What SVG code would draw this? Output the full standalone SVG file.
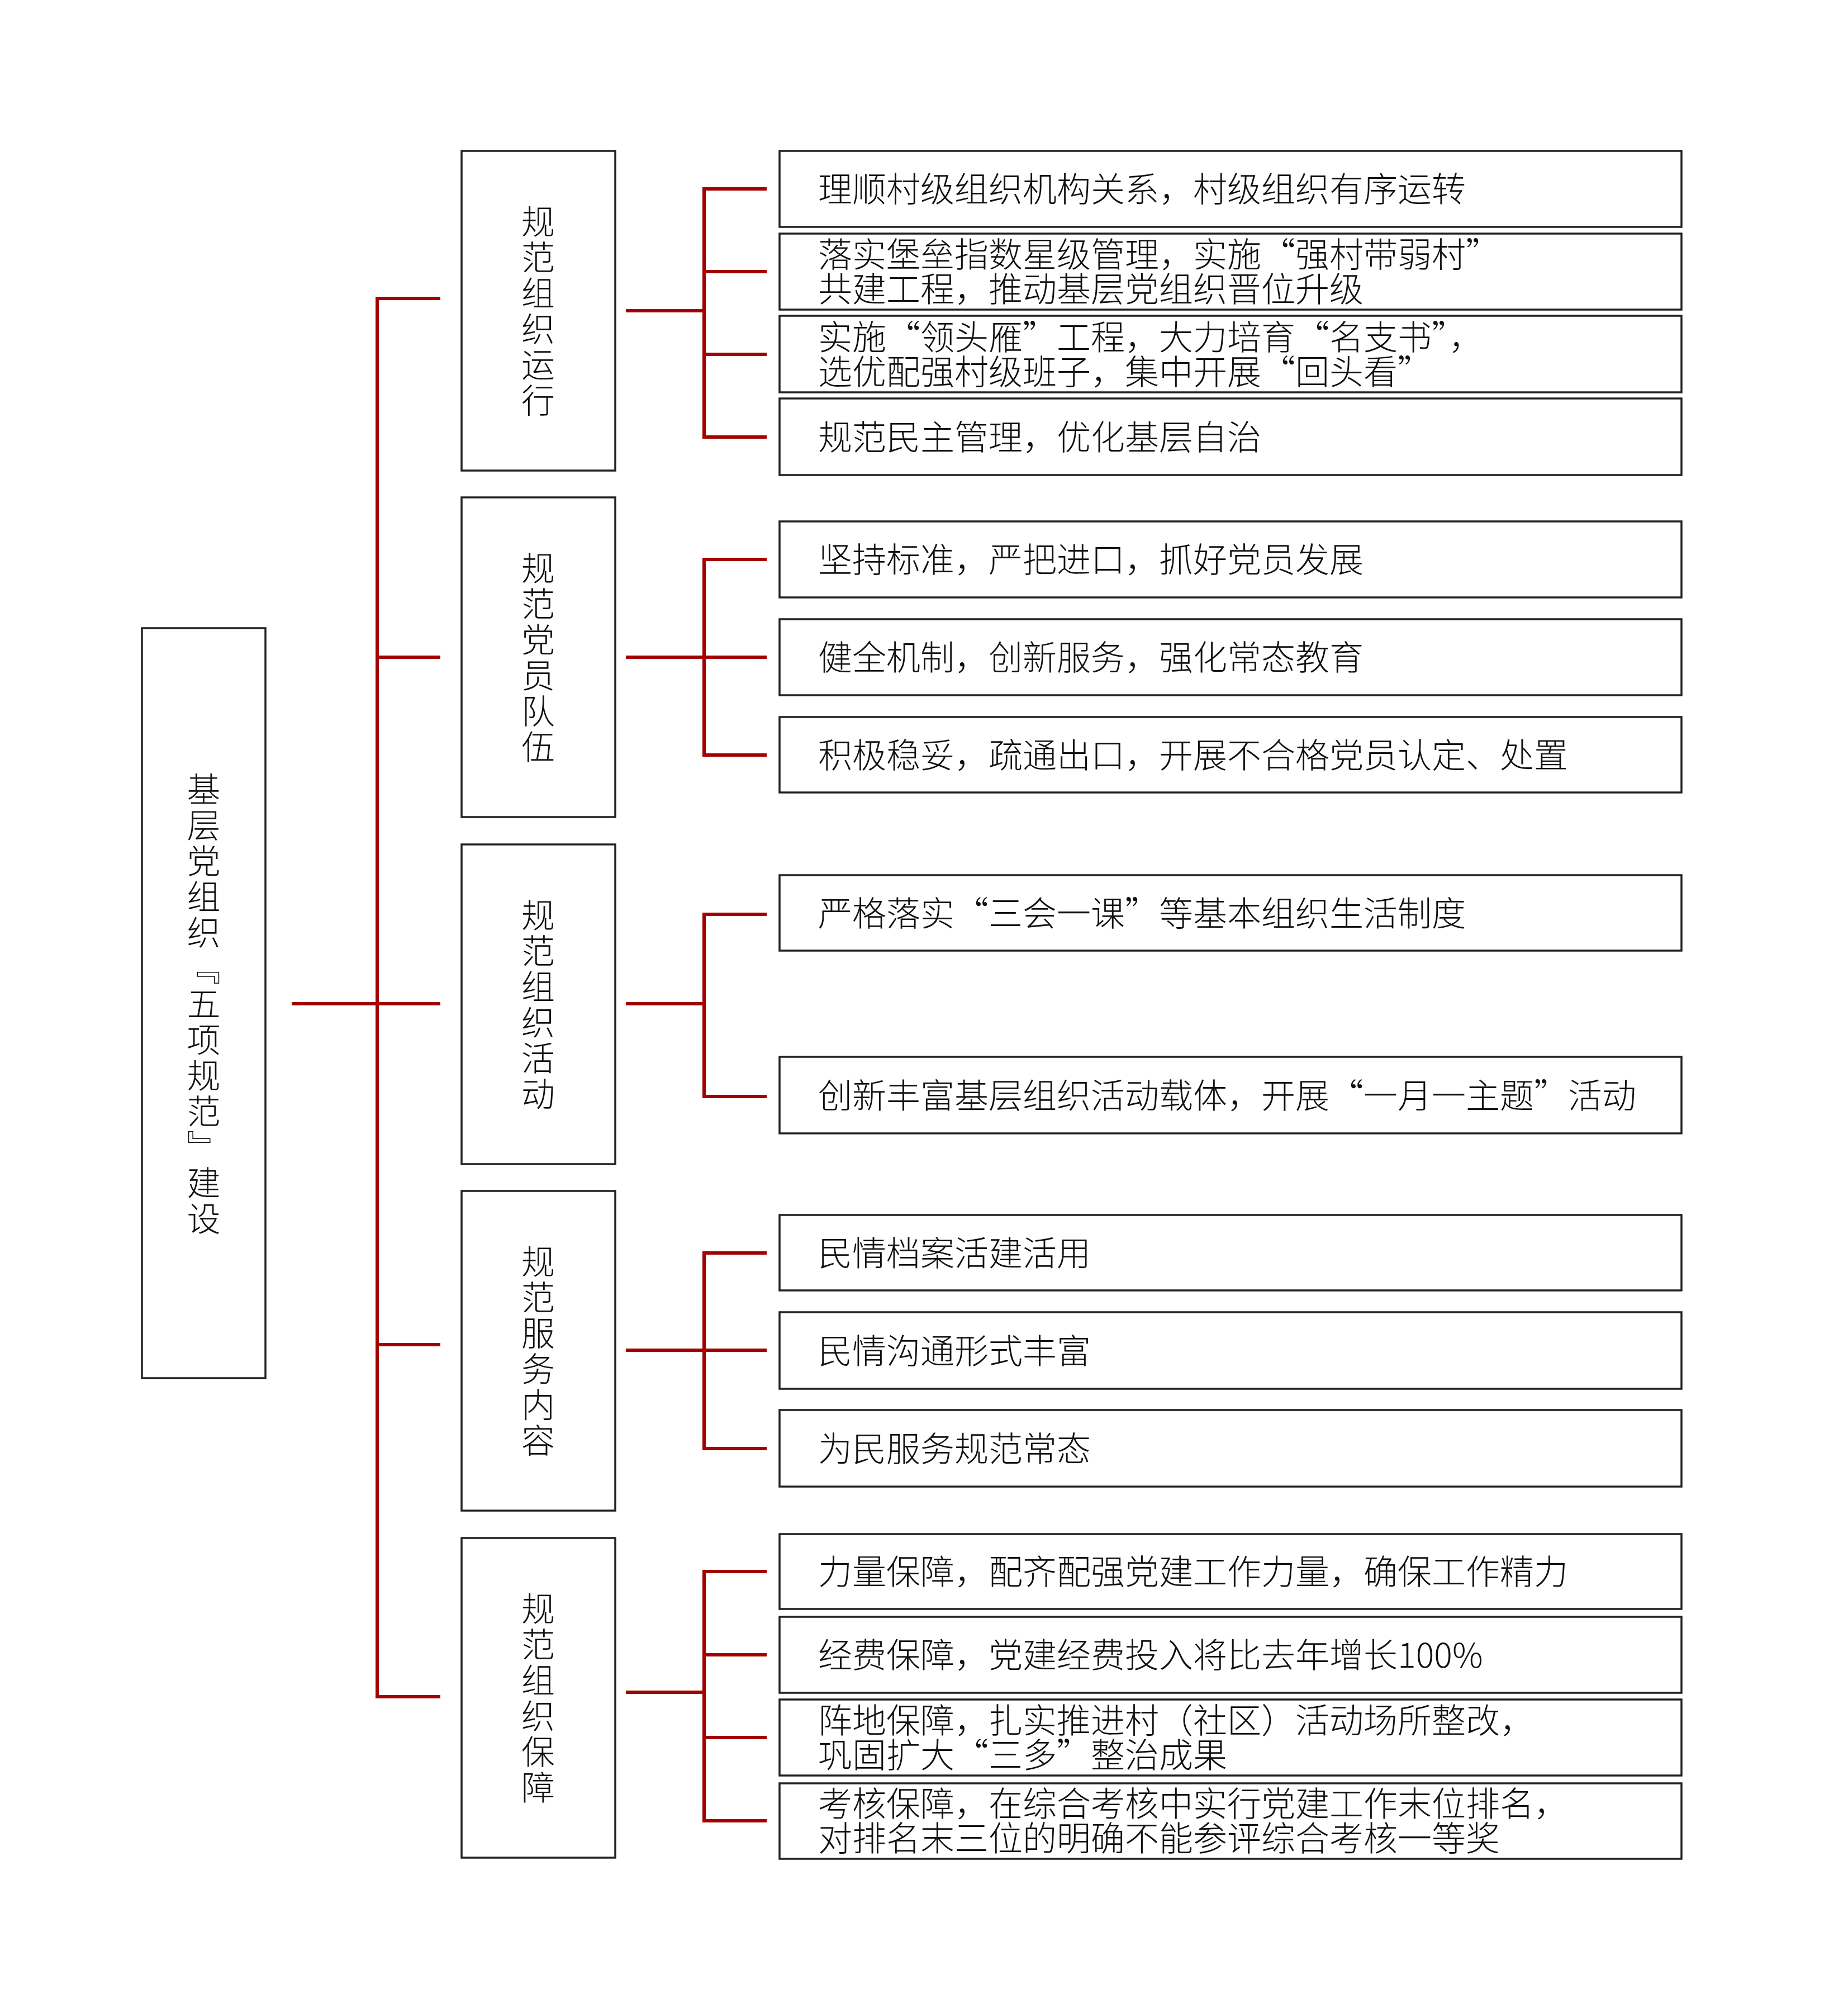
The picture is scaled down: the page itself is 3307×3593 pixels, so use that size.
<svg xmlns="http://www.w3.org/2000/svg" width="3307" height="3593" viewBox="0 0 3307 3593">
<style>
.box{fill:#fff;stroke:#222;stroke-width:3.5}
.ln{fill:none;stroke:#A30000;stroke-width:6;stroke-linecap:butt;stroke-linejoin:miter}
.t{font-family:"Noto Sans CJK SC","Noto Sans CJK TC",sans-serif;font-size:61px;fill:#111;font-weight:300}
.v{font-family:"Noto Sans CJK SC","Noto Sans CJK TC",sans-serif;font-size:60px;fill:#111;font-weight:300;writing-mode:vertical-rl;text-anchor:middle;letter-spacing:4px}
</style>
<rect width="3307" height="3593" fill="#fff"/>
<g id="connectors">
<path class="ln" d="M675,534 V3036"/>
<path class="ln" d="M672,534 H788 M675,1176 H788 M522,1796 H788 M675,2406 H788 M672,3036 H788"/>
<path class="ln" d="M1120,556 H1260 M1372,338 H1260 V782 H1372 M1260,486 H1372 M1260,634 H1372"/>
<path class="ln" d="M1120,1176 H1372 M1372,1001 H1260 V1351 H1372"/>
<path class="ln" d="M1120,1796 H1260 M1372,1636 H1260 V1962 H1372"/>
<path class="ln" d="M1120,2416 H1372 M1372,2242 H1260 V2592 H1372"/>
<path class="ln" d="M1120,3028 H1260 M1372,2812 H1260 V3258 H1372 M1260,2961 H1372 M1260,3109 H1372"/>
</g>
<g id="root">
<rect class="box" x="254" y="1124" width="221" height="1342"/>
<text class="v" x="364.5" y="1798">基层党组织『五项规范』建设</text>
</g>
<g id="m1">
<rect class="box" x="826" y="270" width="275" height="572"/>
<text class="v" x="963" y="558">规范组织运行</text>
</g>
<g id="m2">
<rect class="box" x="826" y="890" width="275" height="572"/>
<text class="v" x="963" y="1178">规范党员队伍</text>
</g>
<g id="m3">
<rect class="box" x="826" y="1511" width="275" height="572"/>
<text class="v" x="963" y="1799">规范组织活动</text>
</g>
<g id="m4">
<rect class="box" x="826" y="2131" width="275" height="572"/>
<text class="v" x="963" y="2419">规范服务内容</text>
</g>
<g id="m5">
<rect class="box" x="826" y="2752" width="275" height="572"/>
<text class="v" x="963" y="3040">规范组织保障</text>
</g>
<g id="l1a"><rect class="box" x="1395" y="270" width="1614" height="136"/><text class="t" x="1464" y="361">理顺村级组织机构关系，村级组织有序运转</text></g>
<g id="l1b"><rect class="box" x="1395" y="418" width="1614" height="136"/><text class="t" x="1464" y="478">落实堡垒指数星级管理，实施“强村带弱村”<tspan x="1464" dy="62">共建工程，推动基层党组织晋位升级</tspan></text></g>
<g id="l1c"><rect class="box" x="1395" y="565" width="1614" height="137"/><text class="t" x="1464" y="626">实施“领头雁”工程，大力培育“名支书”，<tspan x="1464" dy="62">选优配强村级班子，集中开展“回头看”</tspan></text></g>
<g id="l1d"><rect class="box" x="1395" y="713" width="1614" height="137"/><text class="t" x="1464" y="805">规范民主管理，优化基层自治</text></g>
<g id="l2a"><rect class="box" x="1395" y="933" width="1614" height="136"/><text class="t" x="1464" y="1024">坚持标准，严把进口，抓好党员发展</text></g>
<g id="l2b"><rect class="box" x="1395" y="1108" width="1614" height="136"/><text class="t" x="1464" y="1199">健全机制，创新服务，强化常态教育</text></g>
<g id="l2c"><rect class="box" x="1395" y="1283" width="1614" height="135"/><text class="t" x="1464" y="1374">积极稳妥，疏通出口，开展不合格党员认定、处置</text></g>
<g id="l3a"><rect class="box" x="1395" y="1566" width="1614" height="135"/><text class="t" x="1464" y="1657">严格落实“三会一课”等基本组织生活制度</text></g>
<g id="l3b"><rect class="box" x="1395" y="1891" width="1614" height="137"/><text class="t" x="1464" y="1983">创新丰富基层组织活动载体，开展“一月一主题”活动</text></g>
<g id="l4a"><rect class="box" x="1395" y="2174" width="1614" height="135"/><text class="t" x="1464" y="2265">民情档案活建活用</text></g>
<g id="l4b"><rect class="box" x="1395" y="2348" width="1614" height="137"/><text class="t" x="1464" y="2440">民情沟通形式丰富</text></g>
<g id="l4c"><rect class="box" x="1395" y="2523" width="1614" height="137"/><text class="t" x="1464" y="2615">为民服务规范常态</text></g>
<g id="l5a"><rect class="box" x="1395" y="2745" width="1614" height="134"/><text class="t" x="1464" y="2835">力量保障，配齐配强党建工作力量，确保工作精力</text></g>
<g id="l5b"><rect class="box" x="1395" y="2893" width="1614" height="136"/><text class="t" x="1464" y="2984">经费保障，党建经费投入将比去年增长100%</text></g>
<g id="l5c"><rect class="box" x="1395" y="3041" width="1614" height="136"/><text class="t" x="1464" y="3101">阵地保障，扎实推进村（社区）活动场所整改，<tspan x="1464" dy="62">巩固扩大“三多”整治成果</tspan></text></g>
<g id="l5d"><rect class="box" x="1395" y="3191" width="1614" height="135"/><text class="t" x="1464" y="3250">考核保障，在综合考核中实行党建工作末位排名，<tspan x="1464" dy="62">对排名末三位的明确不能参评综合考核一等奖</tspan></text></g>
</svg>
